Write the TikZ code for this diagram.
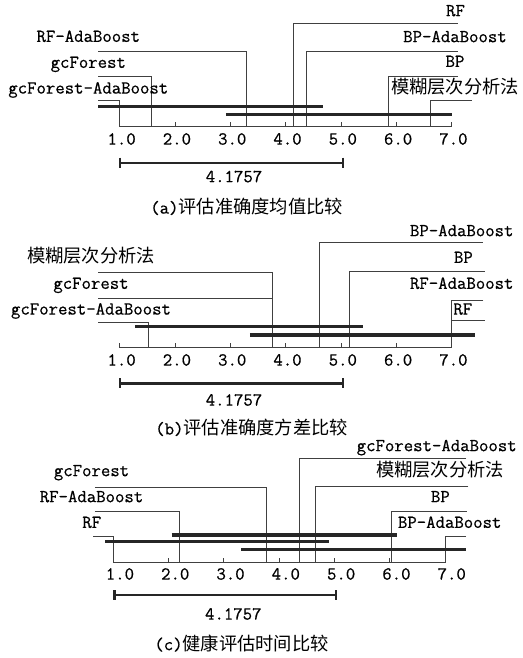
\documentclass[tikz,border=0pt]{standalone}
\usepackage{fontspec}
\newfontfamily\cjk{Noto Sans CJK SC}
\newfontfamily\lblmono[FakeBold=0.6]{lmmono12-regular.otf}
\usetikzlibrary{positioning}

\begin{document}
\begin{tikzpicture}[x=0.75pt,y=-0.75pt,
        lbl/.style={font=\fontsize{13.7}{16}\selectfont\lblmono,inner sep=0pt,anchor=mid},
        conn/.style={draw=black!75,line width=0.75pt},
        grp/.style={draw=black!85,line width=2.3pt},
        cdbar/.style={draw=black!85,line width=1.8pt}]
    \useasboundingbox (0,0) rectangle (523,658);

    % (a) mean accuracy
    \begin{scope}[shift={(0,126.7)},xshift=48.5pt,x=41.475pt]
        \draw[conn] (1,0) -- (7,0);
        \foreach \i in {1,...,7} {
            \draw[conn] (\i,0) -- (\i,-5);
            \node[lbl] (a-t\i) at (\i+0.03,15) {\i.0};
        }
        \coordinate (a-gfa) at (1.0,0);
        \coordinate (a-gf) at (1.57,0);
        \coordinate (a-rfa) at (3.28,0);
        \coordinate (a-rf) at (4.135,0);
        \coordinate (a-bpa) at (4.38,0);
        \coordinate (a-bp) at (5.85,0);
        \coordinate (a-mh) at (6.61,0);
        \coordinate (a-gfa-e) at (0.608,-26.7);
        \coordinate (a-gf-e) at (0.608,-50);
        \coordinate (a-rfa-e) at (0.608,-75);
        \coordinate (a-rf-e) at (7.112,-103.4);
        \coordinate (a-bpa-e) at (7.112,-75.5);
        \coordinate (a-bp-e) at (7.112,-50);
        \coordinate (a-mh-e) at (7.36,-26);
        \foreach \m in {gfa,gf,rfa,rf,bpa,bp,mh}
            \draw[conn] (a-\m-e) -| (a-\m);
        \node[lbl] (a-gfa-l) at (0.427,-36) {gcForest-AdaBoost};
        \node[lbl] (a-gf-l) at (0.427,-61.7) {gcForest};
        \node[lbl] (a-rfa-l) at (0.427,-87.7) {RF-AdaBoost};
        \node[lbl] (a-rf-l) at (7.067,-113.4) {RF};
        \node[lbl] (a-bpa-l) at (7.058,-87.4) {BP-AdaBoost};
        \node[lbl] (a-bp-l) at (7.058,-62.7) {BP};
        \node[lbl] (a-mh-l) at (7.058,-36) {\cjk 模糊层次分析法};
        \draw[grp] (0.608,-20) -- (4.666,-20);
        \draw[grp] (2.917,-12) -- (7,-12);
        \draw[cdbar] (1,31) -- (1,41) (1,36) -- (5.03,36) (5.03,31) -- (5.03,41);
        \node[lbl] (a-cd) at (3.062,52.6) {4.1757};
        \node[lbl] (a-cap) at (3.29,84) {(a){\cjk 评估准确度均值比较}};
    \end{scope}

    % (b) variance of accuracy
    \begin{scope}[shift={(0,347.7)},xshift=48.5pt,x=41.475pt]
        \draw[conn] (1,0) -- (7,0);
        \foreach \i in {1,...,7} {
            \draw[conn] (\i,0) -- (\i,-5);
            \node[lbl] (b-t\i) at (\i+0.03,15) {\i.0};
        }
        \coordinate (b-gfa) at (1.512,0);
        \coordinate (b-mh) at (3.761,0);
        \coordinate (b-gf) at (3.761,0);
        \coordinate (b-bpa) at (4.604,0);
        \coordinate (b-bp) at (5.146,0);
        \coordinate (b-rfa) at (7,0);
        \coordinate (b-rf) at (7,0);
        \coordinate (b-gfa-e) at (0.608,-25.4);
        \coordinate (b-gf-e) at (0.608,-49.4);
        \coordinate (b-mh-e) at (0.608,-75.4);
        \coordinate (b-bpa-e) at (7.559,-105);
        \coordinate (b-bp-e) at (7.6,-76);
        \coordinate (b-rfa-e) at (7.57,-47.7);
        \coordinate (b-rf-e) at (7.6,-27);
        \foreach \m in {gfa,gf,mh,bpa,bp,rfa,rf}
            \draw[conn] (b-\m-e) -| (b-\m);
        \node[lbl] (b-mh-l) at (0.476,-87.7) {\cjk 模糊层次分析法};
        \node[lbl] (b-gf-l) at (0.476,-61.7) {gcForest};
        \node[lbl] (b-gfa-l) at (0.476,-36) {gcForest-AdaBoost};
        \node[lbl] (b-bpa-l) at (7.18,-114.4) {BP-AdaBoost};
        \node[lbl] (b-bp-l) at (7.21,-87.7) {BP};
        \node[lbl] (b-rfa-l) at (7.18,-61.7) {RF-AdaBoost};
        \node[lbl] (b-rf-l) at (7.2,-36) {RF};
        \draw[grp] (1.271,-21) -- (5.4,-21);
        \draw[grp] (3.351,-12.7) -- (7.42,-12.7);
        \draw[cdbar] (1,30.6) -- (1,40.6) (1,35.6) -- (5.03,35.6) (5.03,30.6) -- (5.03,40.6);
        \node[lbl] (b-cd) at (3.062,55) {4.1757};
        \node[lbl] (b-cap) at (3.38,84) {(b){\cjk 评估准确度方差比较}};
    \end{scope}

    % (c) evaluation time
    \begin{scope}[shift={(0,562.7)},xshift=43.5pt,x=41.475pt]
        \draw[conn] (1,0) -- (7,0);
        \foreach \i in {1,...,7} {
            \draw[conn] (\i,0) -- (\i,-5);
            \node[lbl] (c-t\i) at (\i+0.12,14) {\i.0};
        }
        \coordinate (c-rf) at (1,0);
        \coordinate (c-rfa) at (2.194,0);
        \coordinate (c-gf) at (3.774,0);
        \coordinate (c-gfa) at (4.376,0);
        \coordinate (c-mh) at (4.665,0);
        \coordinate (c-bp) at (6.022,0);
        \coordinate (c-bpa) at (7,0);
        \coordinate (c-rf-e) at (0.639,-26.7);
        \coordinate (c-rfa-e) at (0.669,-51);
        \coordinate (c-gf-e) at (0.669,-75.4);
        \coordinate (c-gfa-e) at (7.378,-104.4);
        \coordinate (c-mh-e) at (7.42,-76);
        \coordinate (c-bp-e) at (7.39,-51);
        \coordinate (c-bpa-e) at (7.378,-26.7);
        \foreach \m in {rf,rfa,gf,gfa,mh,bp,bpa}
            \draw[conn] (c-\m-e) -| (c-\m);
        \node[lbl] (c-gfa-l) at (6.848,-114.4) {gcForest-AdaBoost};
        \node[lbl] (c-gf-l) at (0.606,-89.4) {gcForest};
        \node[lbl] (c-mh-l) at (6.908,-89.4) {\cjk 模糊层次分析法};
        \node[lbl] (c-rfa-l) at (0.606,-63.4) {RF-AdaBoost};
        \node[lbl] (c-bp-l) at (6.914,-63.4) {BP};
        \node[lbl] (c-rf-l) at (0.61,-37.7) {RF};
        \node[lbl] (c-bpa-l) at (7.083,-37.7) {BP-AdaBoost};
        \draw[grp] (2.056,-27.7) -- (6.136,-27.7);
        \draw[grp] (0.85,-21) -- (4.906,-21);
        \draw[grp] (3.31,-13.4) -- (7.378,-13.4);
        \draw[cdbar] (1.02,27.3) -- (1.02,37.3) (1.02,32.3) -- (5.027,32.3) (5.027,27.3) -- (5.027,37.3);
        \node[lbl] (c-cd) at (3.17,54) {4.1757};
        \node[lbl] (c-cap) at (3.32,84.6) {(c){\cjk 健康评估时间比较}};
    \end{scope}
\end{tikzpicture}
\end{document}
